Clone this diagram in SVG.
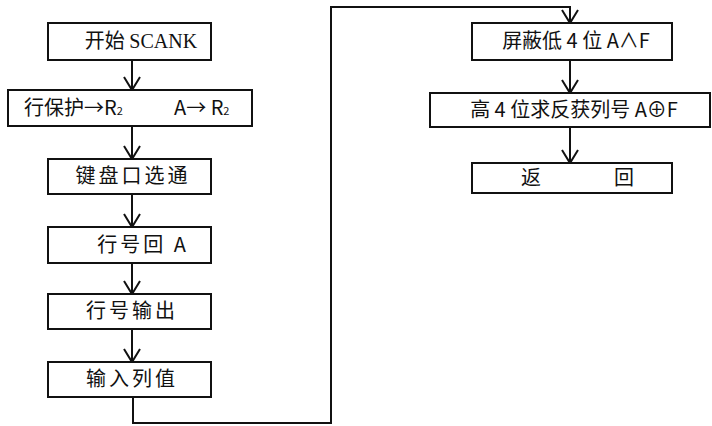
<svg xmlns="http://www.w3.org/2000/svg" width="712" height="426" viewBox="0 0 712 426">
<defs>
<style>
.b{fill:#fff;stroke:#111;stroke-width:2}
.t{font-family:"Noto Sans CJK SC","Liberation Serif",serif;font-size:20px;fill:#111;text-anchor:middle}
.s{text-anchor:start}
.l{fill:none;stroke:#111;stroke-width:2}
.a{fill:none;stroke:#111;stroke-width:2}
</style>
</defs>
<rect width="712" height="426" fill="#fff"/>
<g id="connectors">
<line class="l" x1="132" y1="60" x2="132" y2="90"/>
<path class="a" d="M124,77 L132,90 L140,77"/>
<line class="l" x1="132" y1="126" x2="132" y2="159"/>
<path class="a" d="M124,146 L132,159 L140,146"/>
<line class="l" x1="132" y1="194" x2="132" y2="227"/>
<path class="a" d="M124,214 L132,227 L140,214"/>
<line class="l" x1="132" y1="263" x2="132" y2="294"/>
<path class="a" d="M124,281 L132,294 L140,281"/>
<line class="l" x1="132" y1="329" x2="132" y2="362"/>
<path class="a" d="M124,349 L132,362 L140,349"/>
<path class="l" d="M133,397 L133,423 L331,423 L331,7 L570,7 L570,23"/>
<path class="a" d="M562,10 L570,23 L578,10"/>
<line class="l" x1="570" y1="60" x2="570" y2="93"/>
<path class="a" d="M562,80 L570,93 L578,80"/>
<line class="l" x1="570" y1="127" x2="570" y2="163"/>
<path class="a" d="M562,150 L570,163 L578,150"/>
</g>
<g id="n1"><rect class="b" x="48" y="23" width="163" height="37"/><text class="t" x="141" y="48">开始 <tspan font-family="Liberation Serif">SCANK</tspan></text></g>
<g id="n2"><rect class="b" x="8" y="90" width="244" height="36"/><text class="t s" x="24" y="115">行保护→R<tspan font-size="11">2</tspan><tspan x="174">A→ R</tspan><tspan font-size="11">2</tspan></text></g>
<g id="n3"><rect class="b" x="48" y="159" width="163" height="35"/><text class="t" x="133" y="183" letter-spacing="3">键盘口选通</text></g>
<g id="n4"><rect class="b" x="48" y="227" width="163" height="36"/><text class="t" x="143" y="252" letter-spacing="3">行号回 A</text></g>
<g id="n5"><rect class="b" x="48" y="294" width="163" height="35"/><text class="t" x="132" y="318" letter-spacing="3">行号输出</text></g>
<g id="n6"><rect class="b" x="48" y="362" width="163" height="35"/><text class="t" x="132" y="386" letter-spacing="3">输入列值</text></g>
<g id="n7"><rect class="b" x="472" y="23" width="200" height="37"/><text class="t" x="576" y="48">屏蔽低 4 位 A∧F</text></g>
<g id="n8"><rect class="b" x="430" y="93" width="280" height="34"/><text class="t" x="574" y="117">高 4 位求反获列号 A⊕F</text></g>
<g id="n9"><rect class="b" x="472" y="163" width="200" height="30"/><text class="t" x="531" y="185">返</text><text class="t" x="624" y="185">回</text></g>
</svg>
